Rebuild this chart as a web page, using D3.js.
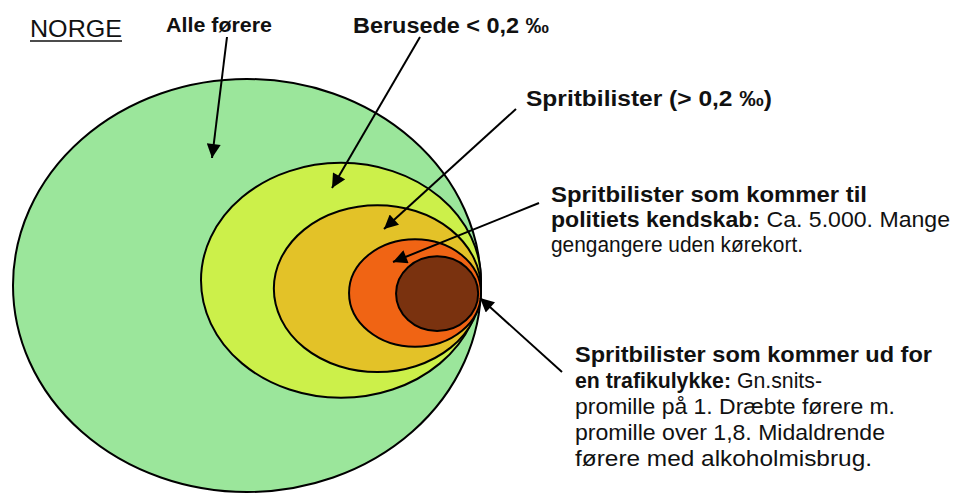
<!DOCTYPE html>
<html>
<head>
<meta charset="utf-8">
<script src="https://cdn.jsdelivr.net/npm/d3@7"></script>
<style>
  body { margin: 0; background: #fff; }
  svg { display: block; }
  text { font-family: "Liberation Sans Narrow", "Liberation Sans", Arial, sans-serif; fill: #111; }
</style>
</head>
<body>
<div id="chart"></div>
<script>
// nested groups, outer to inner (extent in % of the outer ellipse)
var groups = ["Alle førere", "Berusede < 0,2 ‰", "Spritbilister (> 0,2 ‰)", "Politiets kendskab", "Trafikulykke"];
var leftEdge   = [0, 40, 55.5, 71.5, 81.5];
var rightEdge  = [100, 100, 100, 100, 99.4];
var topEdge    = [0, 20.2, 30.4, 38.6, 42.7];
var bottomEdge = [100, 77.3, 71.1, 65, 61.2];
var colors = ["#9be69b", "#ccf04a", "#e3c228", "#f06414", "#7a320f"];

var width = 954, height = 494;

var x = d3.scaleLinear().domain([0, 100]).range([12, 482]);
var y = d3.scaleLinear().domain([0, 100]).range([78, 493]);

var svg = d3.select("#chart").append("svg")
    .attr("width", width)
    .attr("height", height);

svg.append("defs").append("marker")
    .attr("id", "head")
    .attr("viewBox", "0 0 10 10")
    .attr("refX", 10).attr("refY", 5)
    .attr("markerUnits", "userSpaceOnUse")
    .attr("markerWidth", 16).attr("markerHeight", 14)
    .attr("orient", "auto")
  .append("path")
    .attr("d", "M0,0 L10,5 L0,10 Z")
    .attr("fill", "#000");

var data = groups.map(function(g, i) {
  return { name: g, x0: leftEdge[i], x1: rightEdge[i], y0: topEdge[i], y1: bottomEdge[i], color: colors[i] };
});

svg.selectAll("ellipse")
  .data(data)
  .enter()
  .append("ellipse")
    .attr("cx", function(d) { return (x(d.x0) + x(d.x1)) / 2; })
    .attr("cy", function(d) { return (y(d.y0) + y(d.y1)) / 2; })
    .attr("rx", function(d) { return (x(d.x1) - x(d.x0)) / 2 - 1; })
    .attr("ry", function(d) { return (y(d.y1) - y(d.y0)) / 2 - 1; })
    .attr("fill", function(d) { return d.color; })
    .attr("stroke", "#000")
    .attr("stroke-width", 2);

// arrows: from label to ellipse
var arrows = [
  [227, 37, 212, 158],
  [420, 37, 332, 188],
  [516, 109, 384, 229],
  [539, 203, 393, 262],
  [562, 372, 480, 298]
];
svg.selectAll("line.arrow")
  .data(arrows)
  .enter()
  .append("line")
    .attr("class", "arrow")
    .attr("x1", function(d) { return d[0]; })
    .attr("y1", function(d) { return d[1]; })
    .attr("x2", function(d) { return d[2]; })
    .attr("y2", function(d) { return d[3]; })
    .attr("stroke", "#000")
    .attr("stroke-width", 2)
    .attr("marker-end", "url(#head)");

// label blocks: x, first baseline, line gap, font size, lines [width, segments [text, bold]]
var labels = [
  { x: 30, y: 37, gap: 0, size: 24, lines: [[92, [["NORGE", false]]]] },
  { x: 166, y: 32, gap: 0, size: 20, lines: [[106, [["Alle førere", true]]]] },
  { x: 353, y: 33, gap: 0, size: 22, lines: [[196, [["Berusede < 0,2 ‰", true]]]] },
  { x: 526, y: 106, gap: 0, size: 22, lines: [[246, [["Spritbilister (> 0,2 ‰)", true]]]] },
  { x: 551, y: 202, gap: 25, size: 22, lines: [
      [316, [["Spritbilister som kommer til", true]]],
      [399, [["politiets kendskab:", true], [" Ca. 5.000. Mange", false]]],
      [252, [["gengangere uden kørekort.", false]]]
  ] },
  { x: 575, y: 362, gap: 26, size: 22, lines: [
      [357, [["Spritbilister som kommer ud for", true]]],
      [247, [["en trafikulykke:", true], [" Gn.snits-", false]]],
      [320, [["promille på 1. Dræbte førere m.", false]]],
      [310, [["promille over 1,8. Midaldrende", false]]],
      [297, [["førere med alkoholmisbrug.", false]]]
  ] }
];

var txt = svg.selectAll("text.lab")
  .data(labels)
  .enter()
  .append("text")
    .attr("class", "lab")
    .attr("font-size", function(d) { return d.size; });

txt.selectAll("tspan.line")
  .data(function(d) {
    return d.lines.map(function(l, i) { return { x: d.x, y: d.y + i * d.gap, w: l[0], segs: l[1] }; });
  })
  .enter()
  .append("tspan")
    .attr("class", "line")
    .attr("x", function(l) { return l.x; })
    .attr("y", function(l) { return l.y; })
    .attr("textLength", function(l) { return l.w; })
    .attr("lengthAdjust", "spacingAndGlyphs")
  .selectAll("tspan")
  .data(function(l) { return l.segs; })
  .enter()
  .append("tspan")
    .attr("font-weight", function(s) { return s[1] ? "bold" : "normal"; })
    .text(function(s) { return s[0]; });

// underline for NORGE
svg.append("line")
    .attr("x1", 30).attr("x2", 122)
    .attr("y1", 41).attr("y2", 41)
    .attr("stroke", "#111")
    .attr("stroke-width", 1.3);
</script>
</body>
</html>
